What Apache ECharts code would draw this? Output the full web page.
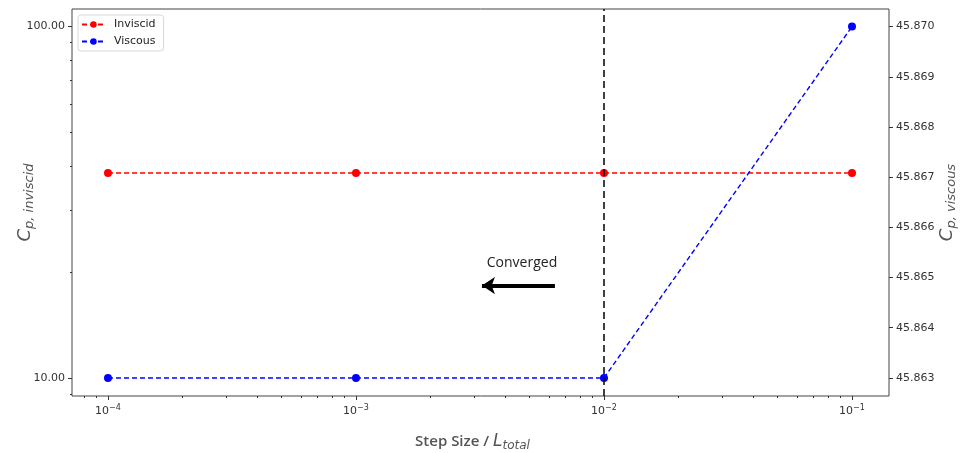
<!DOCTYPE html>
<html>
<head>
<meta charset="utf-8">
<script src="https://cdn.jsdelivr.net/npm/echarts@6/dist/echarts.min.js"></script>
<style>
  html, body { margin: 0; padding: 0; background: #fff; }
  #chart { width: 960px; height: 453px; }
</style>
</head>
<body>
<div id="chart"></div>
<script>
// data
var stepSizes = [1e-4, 1e-3, 1e-2, 1e-1];
var inviscid = [38.2, 38.2, 38.2, 38.2];
var viscous = [45.863, 45.863, 45.863, 45.870];

var xTicks = [1e-4, 1e-3, 1e-2, 1e-1];
var leftTicks = [10, 100];
var rightTicks = [45.863, 45.864, 45.865, 45.866, 45.867, 45.868, 45.869, 45.870];
var convergedLine = 1e-2;
var arrowFrom = [6.34e-3, 18.3];
var arrowTo = [3.22e-3, 18.3];
var textAt = [4.67e-3, 21.2];

// minor ticks (2..9 x 10^n) like matplotlib
var xMinor = [];
for (var e = -5; e <= -1; e++) {
  for (var m = 2; m <= 9; m++) {
    var v = m * Math.pow(10, e);
    if (v > 7.16e-5 && v < 0.141) xMinor.push(v);
  }
}
var yMinor = [9, 20, 30, 40, 50, 60, 70, 80, 90];

var xMin = 7.16e-5, xMax = 0.141;
var yMin = 8.89, yMax = 111.7;
var rMin = 45.86264, rMax = 45.87035;

var tickFont = 'DejaVu Sans';
var nameColor = '#555';

function pair(list, vals) {
  return list.map(function (x, i) { return [x, vals[i]]; });
}

function cpName() {
  return {
    rich: {
      c: { fontFamily: 'DejaVu Sans', fontStyle: 'italic', fontSize: 18, color: nameColor },
      s: { fontFamily: 'DejaVu Sans', fontStyle: 'italic', fontSize: 13, color: nameColor, padding: [8, 0, 0, 0] }
    }
  };
}

var myChart = echarts.init(document.getElementById('chart'));
var option = {
  animation: false,
  grid: {
    left: 72, right: 71, top: 9, bottom: 57,
    outerBoundsMode: 'none', containLabel: false,
    show: true, borderColor: '#444', borderWidth: 1, backgroundColor: '#fff'
  },
  legend: {
    left: 78, top: 15,
    orient: 'vertical',
    data: ['Inviscid', 'Viscous'],
    itemWidth: 23, itemHeight: 8, itemGap: 6,
    padding: [4, 8, 4, 3],
    borderColor: '#d8d8d8', borderWidth: 1, borderRadius: 3,
    backgroundColor: '#fff',
    textStyle: { fontFamily: tickFont, fontSize: 11, color: '#222', padding: [0, 0, 0, 4] }
  },
  xAxis: [{
    type: 'log', logBase: 10, min: xMin, max: xMax, position: 'bottom',
    name: '{a|Step Size / }{b|L}{c|total}',
    nameLocation: 'middle', nameGap: 35, nameMoveOverlap: false,
    nameTextStyle: {
      padding: [0, 16, 0, 0],
      rich: {
        a: { fontFamily: 'Open Sans', fontWeight: 600, fontSize: 15, color: nameColor },
        b: { fontFamily: 'DejaVu Sans', fontStyle: 'italic', fontSize: 17, color: nameColor },
        c: { fontFamily: 'DejaVu Sans', fontStyle: 'italic', fontSize: 12, color: nameColor, padding: [9, 0, 0, 0] }
      }
    },
    axisLine: { show: false },
    axisTick: { show: true, length: 4, customValues: xTicks, lineStyle: { color: '#333' } },
    splitLine: { show: false },
    axisLabel: {
      customValues: xTicks, margin: 8,
      formatter: function (v) {
        return '{b|10}{s|\u2212' + Math.abs(Math.round(Math.log10(v))) + '}';
      },
      rich: {
        b: { fontFamily: tickFont, fontSize: 11, color: '#333' },
        s: { fontFamily: tickFont, fontSize: 8, color: '#333', padding: [0, 0, 7, 0] }
      }
    }
  }, {
    type: 'log', logBase: 10, min: xMin, max: xMax, position: 'bottom', offset: 0,
    axisLine: { show: false },
    axisTick: { show: true, length: 2, customValues: xMinor, lineStyle: { color: '#333' } },
    axisLabel: { show: false },
    splitLine: { show: false }
  }],
  yAxis: [{
    type: 'log', logBase: 10, min: yMin, max: yMax, position: 'left',
    name: '{c|C}{s|p, inviscid}',
    nameLocation: 'middle', nameGap: 36, nameMoveOverlap: false,
    nameTextStyle: cpName(),
    axisLine: { show: false },
    axisTick: { show: true, length: 4, customValues: leftTicks, lineStyle: { color: '#333' } },
    splitLine: { show: false },
    axisLabel: {
      customValues: leftTicks, margin: 7,
      fontFamily: tickFont, fontSize: 11, color: '#333',
      formatter: function (v) { return v.toFixed(2); }
    }
  }, {
    type: 'value', min: rMin, max: rMax, position: 'right',
    name: '{c|C}{s|p, viscous}',
    nameLocation: 'middle', nameGap: 48, nameMoveOverlap: false,
    nameTextStyle: cpName(),
    axisLine: { show: false },
    axisTick: { show: true, length: 4, customValues: rightTicks, lineStyle: { color: '#333' } },
    splitLine: { show: false },
    axisLabel: {
      customValues: rightTicks, margin: 7,
      fontFamily: tickFont, fontSize: 11, color: '#333',
      formatter: function (v) { return v.toFixed(3); }
    }
  }, {
    type: 'log', logBase: 10, min: yMin, max: yMax, position: 'left', offset: 0,
    axisLine: { show: false },
    axisTick: { show: true, length: 2, customValues: yMinor, lineStyle: { color: '#333' } },
    axisLabel: { show: false },
    splitLine: { show: false }
  }],
  series: [{
    name: 'Inviscid',
    type: 'line',
    xAxisIndex: 0, yAxisIndex: 0,
    data: pair(stepSizes, inviscid),
    color: '#ff0000',
    symbol: 'circle', symbolSize: 8,
    lineStyle: { type: [5, 3], width: 1.4, color: '#ff0000' },
    markLine: {
      silent: true,
      symbol: ['none', 'arrow'], symbolSize: [13, 13],
      label: { show: false },
      lineStyle: { type: 'solid', color: '#000', width: 4 },
      data: [[{ coord: arrowFrom }, { coord: arrowTo }]]
    },
    markPoint: {
      silent: true,
      symbol: 'circle', symbolSize: 1,
      itemStyle: { color: 'rgba(0,0,0,0)' },
      label: {
        show: true, position: 'inside', formatter: 'Converged',
        fontFamily: 'Open Sans', fontSize: 14, color: '#222'
      },
      data: [{ coord: textAt }]
    }
  }, {
    name: 'Viscous',
    type: 'line',
    xAxisIndex: 0, yAxisIndex: 1,
    data: pair(stepSizes, viscous),
    color: '#0000ff',
    symbol: 'circle', symbolSize: 8,
    lineStyle: { type: [5, 3], width: 1.4, color: '#0000ff' },
    markLine: {
      silent: true,
      symbol: 'none',
      label: { show: false },
      lineStyle: { type: [7, 4], color: '#111', width: 1.6 },
      data: [{ xAxis: convergedLine }]
    }
  }]
};
myChart.setOption(option);
</script>
</body>
</html>
